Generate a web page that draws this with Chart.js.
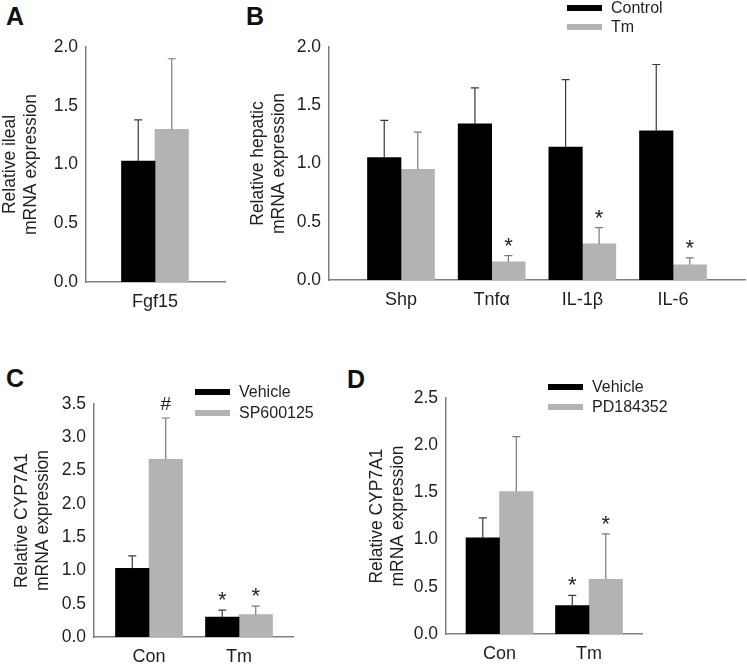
<!DOCTYPE html>
<html>
<head>
<meta charset="utf-8">
<script src="https://cdn.jsdelivr.net/npm/chart.js@4.4.1/dist/chart.umd.min.js"></script>
<style>
  body { margin: 0; background: #fff; width: 747px; height: 664px; position: relative; overflow: hidden;
         font-family: "Liberation Sans", Arial, sans-serif; color: #1f1f1f; }
  canvas { position: absolute; }
  .tag { position: absolute; font-weight: bold; font-size: 25px; line-height: 25px; color: #111; }
  .legend { position: absolute; font-size: 16px; }
  .legend .row { display: flex; align-items: center; white-space: nowrap; }
  .legend .sw { width: 35px; height: 6px; margin-right: 9px; }
</style>
</head>
<body>
<div class="tag" style="left:6px;top:4px">A</div>
<div class="tag" style="left:246px;top:4px">B</div>
<div class="tag" style="left:6px;top:366px">C</div>
<div class="tag" style="left:347px;top:367px">D</div>

<canvas id="chartA" width="236" height="325" style="left:-1px;top:0"></canvas>
<canvas id="chartB" width="500" height="325" style="left:247px;top:0"></canvas>
<canvas id="chartC" width="300" height="330" style="left:11px;top:340px"></canvas>
<canvas id="chartD" width="381" height="330" style="left:366px;top:340px"></canvas>

<div class="legend" id="legendB" style="left:567px;top:-2px"></div>
<div class="legend" id="legendC" style="left:195px;top:381px"></div>
<div class="legend" id="legendD" style="left:548px;top:377px"></div>

<script>
// A - ileal
const catsA = ['Fgf15'];
const ctrlA = [1.03];
const ctrlErrA = [0.35];
const tmA = [1.30];
const tmErrA = [0.60];

// B - hepatic
const catsB = ['Shp', 'Tnf\u03b1', 'IL-1\u03b2', 'IL-6'];
const ctrlB = [1.05, 1.34, 1.14, 1.28];
const ctrlErrB = [0.32, 0.31, 0.58, 0.57];
const tmB = [0.95, 0.155, 0.31, 0.13];
const tmErrB = [0.32, 0.055, 0.14, 0.06];
const tmMarkB = ['', '*', '*', '*'];

// C - SP600125
const catsC = ['Con', 'Tm'];
const vehC = [1.03, 0.30];
const vehErrC = [0.19, 0.105];
const spC = [2.67, 0.335];
const spErrC = [0.62, 0.13];
const vehMarkC = ['', '*'];
const spMarkC = ['#', '*'];

// D - PD184352
const catsD = ['Con', 'Tm'];
const vehD = [1.02, 0.30];
const vehErrD = [0.21, 0.11];
const pdD = [1.51, 0.58];
const pdErrD = [0.58, 0.48];
const vehMarkD = ['', '*'];
const pdMarkD = ['', '*'];

const BLACK = '#000000';
const GREY = '#b3b3b3';
const AXIS = '#808080';
const FONT = '"Liberation Sans", Arial, sans-serif';

// error whiskers (upward only) + significance marks
const errorBars = {
  id: 'errorBars',
  afterDatasetsDraw(chart) {
    const ctx = chart.ctx;
    const yScale = chart.scales.y;
    chart.data.datasets.forEach((ds, i) => {
      chart.getDatasetMeta(i).data.forEach((bar, j) => {
        const top = yScale.getPixelForValue(ds.data[j].y + ds.errors[j]);
        ctx.save();
        ctx.strokeStyle = ds.errorColor;
        ctx.lineWidth = 1.2;
        ctx.beginPath();
        ctx.moveTo(bar.x, bar.y);
        ctx.lineTo(bar.x, top);
        ctx.moveTo(bar.x - 4, top);
        ctx.lineTo(bar.x + 4, top);
        ctx.stroke();
        const mark = ds.marks && ds.marks[j];
        if (mark) {
          ctx.font = (mark === '#' ? '19px ' : '22px ') + FONT;
          ctx.fillStyle = '#1f1f1f';
          ctx.textAlign = 'center';
          const m = ctx.measureText(mark);
          const cy = top - 14;
          ctx.fillText(mark, bar.x, cy + (m.actualBoundingBoxAscent - m.actualBoundingBoxDescent) / 2);
        }
        ctx.restore();
      });
    });
  },
};

function makePanel(id, p) {
  const series = (vals, errs, marks, color, errColor, label) => ({
    label,
    data: vals.map((v, i) => ({ x: i, y: v })),
    backgroundColor: color,
    borderWidth: 0,
    errors: errs,
    marks,
    errorColor: errColor,
  });

  return new Chart(document.getElementById(id), {
    type: 'bar',
    data: {
      datasets: [
        series(p.a, p.aErr, p.aMark, BLACK, '#3a3a3a', p.names[0]),
        series(p.b, p.bErr, p.bMark, GREY, '#7a7a7a', p.names[1]),
      ],
    },
    options: {
      responsive: false,
      animation: false,
      layout: { padding: p.pad },
      datasets: { bar: { barThickness: 33.5 } },
      plugins: { legend: { display: false }, tooltip: { enabled: false } },
      scales: {
        x: {
          type: 'linear',
          offset: false,
          min: p.xMin,
          max: p.xMax,
          grid: { display: false, drawTicks: false },
          border: { color: AXIS, width: 1.5 },
          afterBuildTicks: (s) => { s.ticks = p.cats.map((c, i) => ({ value: i })); },
          afterFit: (s) => { s.height = 30; },
          ticks: {
            callback: (v) => p.cats[v],
            autoSkip: false,
            maxRotation: 0,
            padding: 9,
            color: '#1f1f1f',
            font: { family: FONT, size: 18 },
          },
        },
        y: {
          min: 0,
          max: p.yMax,
          grid: { display: false, drawTicks: false },
          border: { color: AXIS, width: 1.5 },
          afterFit: (s) => { s.width = p.yWidth; },
          ticks: {
            stepSize: 0.5,
            callback: (v) => v.toFixed(1),
            padding: 8,
            color: '#1f1f1f',
            font: { family: FONT, size: 17.5 },
          },
          title: {
            display: true,
            text: p.title,
            padding: 0,
            color: '#1f1f1f',
            font: { family: FONT, size: 17.5, lineHeight: 1.22 },
          },
        },
      },
    },
    plugins: [errorBars],
  });
}

function makeLegend(id, names, rowH) {
  const el = document.getElementById(id);
  [BLACK, GREY].forEach((c, i) => {
    const row = document.createElement('div');
    row.className = 'row';
    row.style.height = rowH + 'px';
    row.innerHTML = '<div class="sw" style="background:' + c + '"></div><span>' + names[i] + '</span>';
    el.appendChild(row);
  });
}

makePanel('chartA', {
  cats: catsA, a: ctrlA, aErr: ctrlErrA, b: tmA, bErr: tmErrA,
  names: ['Control', 'Tm'], yMax: 2, title: ['Relative ileal', 'mRNA expression'],
  xMin: -0.69, xMax: 0.70, yWidth: 87,
  pad: { left: 0, top: 47, right: 10, bottom: 13 },
});

makePanel('chartB', {
  cats: catsB, a: ctrlB, aErr: ctrlErrB, b: tmB, bErr: tmErrB, bMark: tmMarkB,
  names: ['Control', 'Tm'], yMax: 2, title: ['Relative hepatic', 'mRNA expression'],
  xMin: -0.794, xMax: 3.794, yWidth: 82,
  pad: { left: 0, top: 47, right: 2, bottom: 15 },
});

makePanel('chartC', {
  cats: catsC, a: vehC, aErr: vehErrC, aMark: vehMarkC, b: spC, bErr: spErrC, bMark: spMarkC,
  names: ['Vehicle', 'SP600125'], yMax: 3.5, title: ['Relative CYP7A1', 'mRNA expression'],
  xMin: -0.611, xMax: 1.6, yWidth: 83,
  pad: { left: 0, top: 64, right: 18, bottom: 3 },
});

makePanel('chartD', {
  cats: catsD, a: vehD, aErr: vehErrD, aMark: vehMarkD, b: pdD, bErr: pdErrD, bMark: pdMarkD,
  names: ['Vehicle', 'PD184352'], yMax: 2.5, title: ['Relative CYP7A1', 'mRNA expression'],
  xMin: -0.598, xMax: 1.592, yWidth: 80,
  pad: { left: 0, top: 58, right: 105, bottom: 6 },
});

makeLegend('legendB', ['Control', 'Tm'], 19);
makeLegend('legendC', ['Vehicle', 'SP600125'], 21);
makeLegend('legendD', ['Vehicle', 'PD184352'], 20);
</script>
</body>
</html>
